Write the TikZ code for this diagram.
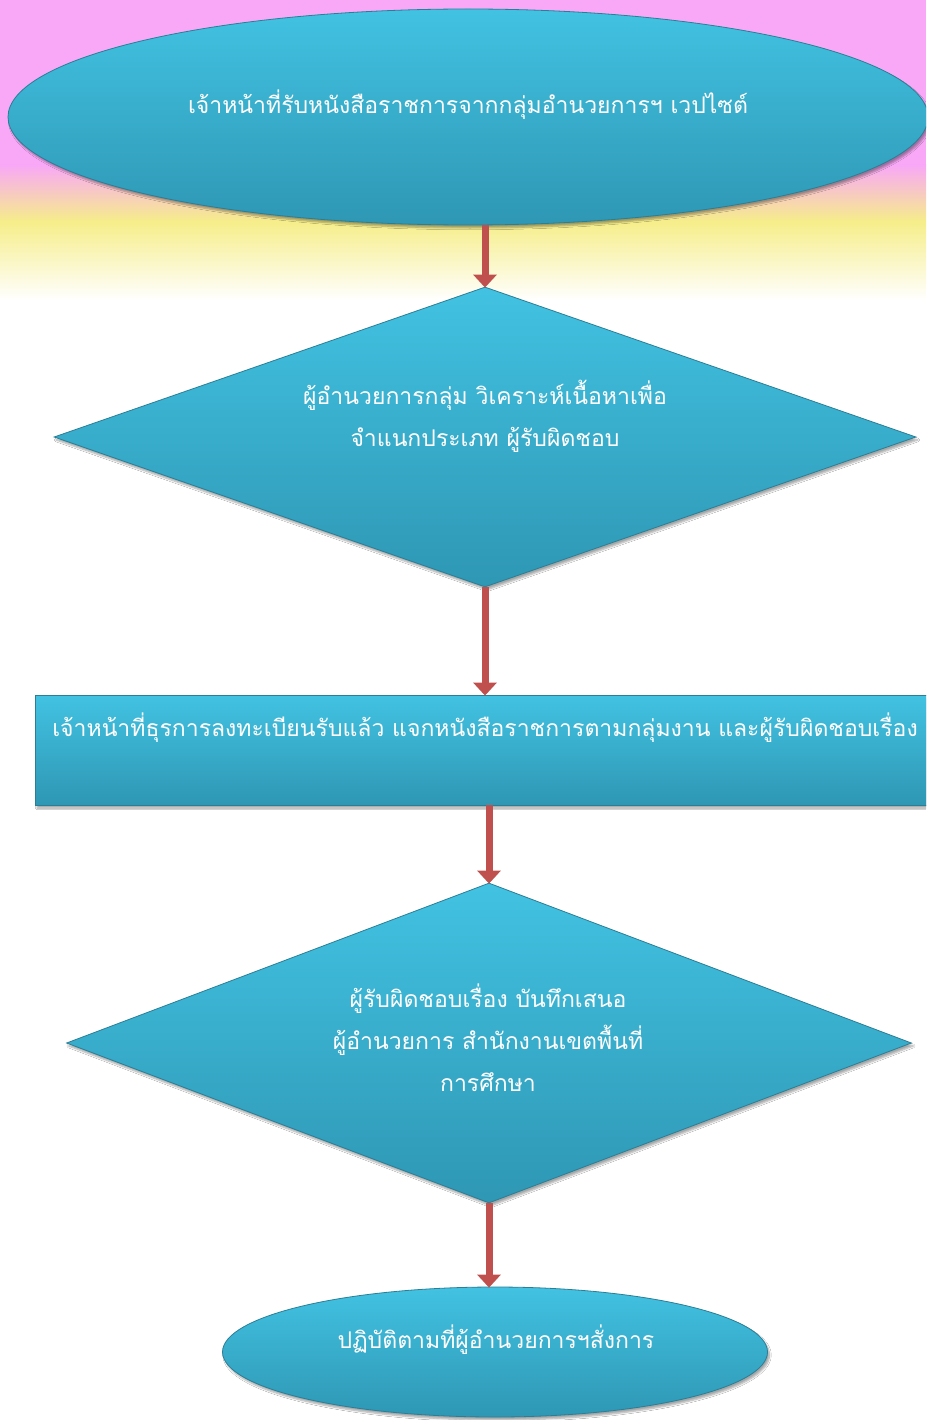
\documentclass[tikz,border=0pt]{standalone}
\usepackage{fontspec}
\newfontfamily\thai[Script=Thai]{Loma}
\usetikzlibrary{shapes.geometric,arrows.meta,shadows.blur}
\definecolor{bgpink}{HTML}{F8A8F6}
\definecolor{bgyellow}{HTML}{F6EE8A}
\definecolor{boxtop}{HTML}{42C2E2}
\definecolor{boxbot}{HTML}{2E97B4}
\definecolor{boxedge}{HTML}{2A7E96}
\definecolor{arrowred}{HTML}{C0504D}
\tikzset{
  shapebox/.style={top color=boxtop, bottom color=boxbot, draw=boxedge, line width=0.8pt, inner sep=0pt,
    blur shadow={shadow xshift=2pt, shadow yshift=-3pt, shadow blur steps=6, shadow opacity=35}},
  label/.style={text=white, font=\thai\fontsize{23}{42}\selectfont, align=center, inner sep=0pt},
  flow/.style={draw=arrowred, line width=7pt, -{Triangle[length=13pt,width=23pt]}, shorten >=-1pt}
}
\begin{document}
\begin{tikzpicture}[x=1pt,y=-1pt]
\clip (0,0) rectangle (926,1420);
\fill[white] (0,0) rectangle (926,1420);
\fill[bgpink] (0,0) rectangle (926,165);
\shade[top color=bgpink, bottom color=bgyellow] (0,165) rectangle (926,222);
\shade[top color=bgyellow, bottom color=white] (0,222) rectangle (926,300);

\node[shapebox, ellipse, minimum width=920pt, minimum height=216pt] (e1) at (468,117) {};
\node[label] (t1) at (468,105) {เจ้าหน้าที่รับหนังสือราชการจากกลุ่มอำนวยการฯ เวปไซต์};

\node[shapebox, diamond, minimum width=862pt, minimum height=300pt] (d1) at (485,437) {};
\node[label] (t2) at (485,416) {ผู้อำนวยการกลุ่ม วิเคราะห์เนื้อหาเพื่อ\\จำแนกประเภท ผู้รับผิดชอบ};

\node[shapebox, rectangle, minimum width=920pt, minimum height=110pt] (r1) at (495,750) {};
\node[label] (t3) at (485,728) {เจ้าหน้าที่ธุรการลงทะเบียนรับแล้ว แจกหนังสือราชการตามกลุ่มงาน และผู้รับผิดชอบเรื่อง};

\node[shapebox, diamond, minimum width=845pt, minimum height=320pt] (d2) at (489,1043) {};
\node[label] (t4) at (488,1038) {ผู้รับผิดชอบเรื่อง บันทึกเสนอ\\ผู้อำนวยการ สำนักงานเขตพื้นที่\\การศึกษา};

\node[shapebox, ellipse, minimum width=545pt, minimum height=130pt] (e2) at (495,1352) {};
\node[label] (t5) at (496,1340) {ปฏิบัติตามที่ผู้อำนวยการฯสั่งการ};

\draw[flow] (d1.north |- e1.south) -- (d1.north);
\draw[flow] (d1.south) -- (d1.south |- r1.north);
\draw[flow] (d2.north |- r1.south) -- (d2.north);
\draw[flow] (d2.south) -- (d2.south |- e2.north);
\end{tikzpicture}
\end{document}
